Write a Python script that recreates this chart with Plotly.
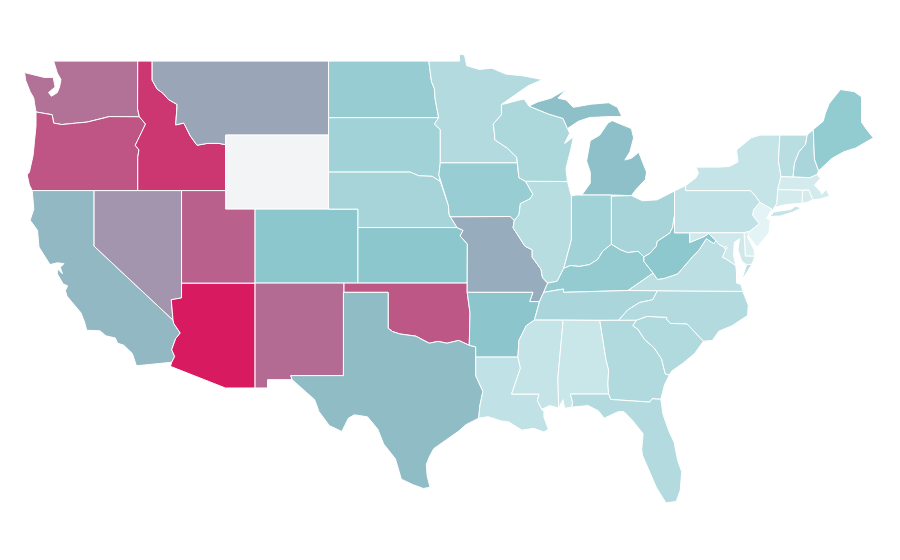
import plotly.graph_objects as go
from plotly.colors import find_intermediate_color, hex_to_rgb, label_rgb

names = ["Washington","Oregon","California","Idaho","Nevada","Arizona","Montana","Wyoming","Utah","Colorado","New Mexico","North Dakota","South Dakota","Nebraska","Kansas","Oklahoma","Texas","Minnesota","Iowa","Missouri","Arkansas","Louisiana","Wisconsin","Illinois","Michigan","Indiana","Ohio","Kentucky","Tennessee","Mississippi","Alabama","Georgia","Florida","South Carolina","North Carolina","Virginia","West Virginia","Pennsylvania","New York","Vermont","New Hampshire","Maine","Massachusetts","Rhode Island","Connecticut","New Jersey","Delaware","Maryland","District of Columbia"]
values = [62.7,74.5,31.5,88,47,100,40,0,70,25,65,22.5,20,19,25,74,30,16,22,36.6,26,13,17.5,15,28,20,19,23,18,12,11,16.5,16,16.5,16,14,24.5,13,12,14.7,18,23.4,8.8,8.8,8.8,5,7,10,9]
stops = [(0, "#f3f4f6"), (5, "#e4f3f5"), (25, "#8bc7cd"), (100, "#d81b60")]
lon_range = [-125.856, -64.636]
lat_range = [21.60, 51.87]

# State outlines as (lon, lat); several parts are listed one after another
WA = [[(-124.73,48.38),(-123.4,48.12),(-122.78,48.12),(-122.65,47.6),(-123.1,47.3),(-122.9,47.1),(-122.5,47.3),(-122.35,47.6),(-122.25,48),(-122.5,48.35),(-122.75,49),(-117.03,49),(-117.04,46.42),(-116.92,45.99),(-118.98,46),(-119.3,45.93),(-120.5,45.7),(-121.2,45.65),(-122.2,45.57),(-122.75,45.65),(-122.85,46.1),(-123.2,46.15),(-123.95,46.25),(-124.05,46.7),(-124.1,47),(-124.35,47.35),(-124.65,47.95)]]
OR = [[(-123.95,46.25),(-123.2,46.15),(-122.85,46.1),(-122.75,45.65),(-122.2,45.57),(-121.2,45.65),(-120.5,45.7),(-119.3,45.93),(-118.98,46),(-116.92,45.99),(-116.5,45.6),(-116.85,45),(-117.2,44.45),(-116.95,44.2),(-117.03,43.8),(-117.03,42),(-124.21,42),(-124.4,42.3),(-124.55,42.85),(-124.4,43),(-124.15,43.9),(-124.05,44.7),(-123.95,45.5)]]
CA = [[(-124.21,42),(-120,42),(-120,39),(-114.63,35),(-114.57,34.8),(-114.14,34.3),(-114.45,34),(-114.72,33.4),(-114.52,33.03),(-114.72,32.72),(-117.12,32.53),(-117.25,32.85),(-117.4,33.2),(-118,33.65),(-118.4,33.75),(-118.55,34.03),(-119.2,34.15),(-119.6,34.42),(-120.5,34.45),(-120.65,34.9),(-120.9,35.4),(-121.85,36.3),(-121.95,36.6),(-121.8,36.85),(-122.1,36.95),(-122.5,37.5),(-122.5,37.78),(-122.15,37.5),(-122.3,37.85),(-122.05,38.05),(-122.5,38.1),(-123,38),(-123.75,38.95),(-123.85,39.85),(-124.35,40.4),(-124.1,41),(-124.2,41.75)]]
ID = [[(-117.03,49),(-116.05,49),(-116.05,47.97),(-115.72,47.5),(-115.3,47.25),(-114.95,46.93),(-114.35,46.65),(-114.45,45.55),(-113.9,45.65),(-113.45,44.95),(-113,44.45),(-112.3,44.55),(-111.5,44.55),(-111.05,44.48),(-111.05,42),(-117.03,42),(-117.03,43.8),(-116.95,44.2),(-117.2,44.45),(-116.85,45),(-116.5,45.6),(-116.92,45.99),(-117.04,46.42)]]
NV = [[(-120,42),(-114.05,42),(-114.05,36.2),(-114.75,36.1),(-114.63,35),(-120,39)]]
AZ = [[(-114.05,37),(-109.05,37),(-109.05,31.33),(-111.07,31.33),(-114.81,32.5),(-114.72,32.72),(-114.52,33.03),(-114.72,33.4),(-114.45,34),(-114.14,34.3),(-114.57,34.8),(-114.63,35),(-114.75,36.1),(-114.05,36.2)]]
MT = [[(-116.05,49),(-104.05,49),(-104.05,45),(-111.05,45),(-111.05,44.48),(-111.5,44.55),(-112.3,44.55),(-113,44.45),(-113.45,44.95),(-113.9,45.65),(-114.45,45.55),(-114.35,46.65),(-114.95,46.93),(-115.3,47.25),(-115.72,47.5),(-116.05,47.97)]]
WY = [[(-111.05,45),(-104.05,45),(-104.05,41),(-111.05,41)]]
UT = [[(-114.05,42),(-111.05,42),(-111.05,41),(-109.05,41),(-109.05,37),(-114.05,37)]]
CO = [[(-109.05,41),(-102.05,41),(-102.05,37),(-109.05,37)]]
NM = [[(-109.05,37),(-103,37),(-103.04,32),(-106.62,32),(-106.53,31.78),(-108.2,31.78),(-108.2,31.33),(-109.05,31.33)]]
ND = [[(-104.05,49),(-97.23,49),(-97.15,48.5),(-97.05,47.9),(-96.85,47.5),(-96.8,46.95),(-96.56,45.94),(-104.05,45.94)]]
SD = [[(-104.05,45.94),(-96.56,45.94),(-96.85,45.6),(-96.45,45.3),(-96.45,43.5),(-96.55,42.85),(-96.45,42.49),(-97,42.77),(-97.9,42.8),(-98.5,43),(-104.05,43)]]
NE = [[(-104.05,43),(-98.5,43),(-97.9,42.8),(-97,42.77),(-96.45,42.49),(-96.1,41.7),(-95.9,41.2),(-95.85,40.7),(-95.31,40),(-102.05,40),(-102.05,41),(-104.05,41)]]
KS = [[(-102.05,40),(-95.31,40),(-94.9,39.85),(-95.1,39.55),(-94.61,39.11),(-94.62,37),(-102.05,37)]]
OK = [[(-103,37),(-94.62,37),(-94.62,36.5),(-94.43,35.4),(-94.48,33.64),(-95.2,33.9),(-96,33.75),(-96.6,33.85),(-97.2,33.75),(-97.7,33.95),(-98.1,34.13),(-99.2,34.25),(-99.7,34.38),(-100,34.56),(-100,36.5),(-103,36.5)]]
TX = [[(-103.04,36.5),(-100,36.5),(-100,34.56),(-99.7,34.38),(-99.2,34.25),(-98.1,34.13),(-97.7,33.95),(-97.2,33.75),(-96.6,33.85),(-96,33.75),(-95.2,33.9),(-94.48,33.64),(-94.04,33.55),(-94.04,31.99),(-93.55,31.15),(-93.75,30.4),(-93.84,29.7),(-94.7,29.35),(-95.2,29),(-95.9,28.6),(-96.9,28.05),(-97.2,27.6),(-97.4,27.2),(-97.35,26.6),(-97.15,25.96),(-97.6,25.9),(-98.3,26.1),(-99.1,26.4),(-99.5,27.5),(-100.3,28.3),(-100.7,29.1),(-101.4,29.77),(-102.3,29.88),(-102.7,29.7),(-103.15,28.98),(-104,29.3),(-104.7,30.05),(-105,30.7),(-106,31.4),(-106.53,31.78),(-106.62,32),(-103.04,32)]]
MN = [[(-97.23,49),(-95.15,49),(-95.15,49.38),(-94.8,49.33),(-94.65,48.75),(-93.8,48.55),(-92.95,48.62),(-92,48.3),(-90.8,48.2),(-89.5,48),(-90.5,47.65),(-91.5,47.1),(-92.1,46.75),(-92.29,46.66),(-92.29,46.1),(-92.85,45.6),(-92.75,45),(-92.75,44.75),(-91.9,44.3),(-91.25,43.8),(-91.22,43.5),(-96.45,43.5),(-96.45,45.3),(-96.85,45.6),(-96.56,45.94),(-96.8,46.95),(-96.85,47.5),(-97.05,47.9),(-97.15,48.5)]]
IA = [[(-96.45,43.5),(-91.22,43.5),(-91.1,42.7),(-90.65,42.5),(-90.15,41.8),(-90.35,41.55),(-91,41.3),(-91.1,40.7),(-91.42,40.38),(-91.7,40.6),(-95.77,40.58),(-95.85,40.7),(-95.9,41.2),(-96.1,41.7),(-96.45,42.49),(-96.55,42.85)]]
MO = [[(-95.77,40.58),(-91.7,40.6),(-91.42,40.38),(-91.5,40),(-90.7,39),(-90.2,38.8),(-90.2,38.4),(-89.6,37.75),(-89.5,37.3),(-89.15,37),(-89.42,36.5),(-89.7,36),(-90.37,36),(-90.15,36.5),(-94.62,36.5),(-94.62,37),(-94.61,39.11),(-95.1,39.55),(-94.9,39.85),(-95.31,40),(-95.85,40.7)]]
AR = [[(-94.62,36.5),(-90.15,36.5),(-90.37,36),(-89.7,36),(-90.05,35),(-90.6,34.7),(-91.1,33.9),(-91.17,33),(-94.04,33),(-94.04,33.55),(-94.48,33.64),(-94.43,35.4)]]
LA = [[(-94.04,33),(-91.17,33),(-91,32.4),(-91.6,31),(-89.73,31),(-89.85,30.65),(-89.55,30.18),(-89.4,30.05),(-89.4,29.75),(-89.1,29.1),(-89.4,28.95),(-90.1,29.15),(-90.9,29.05),(-91.8,29.5),(-92.3,29.55),(-93.2,29.78),(-93.84,29.7),(-93.75,30.4),(-93.55,31.15),(-94.04,31.99)]]
MS = [[(-90.05,35),(-88.2,35),(-88.1,34.9),(-88.45,31.9),(-88.4,30.25),(-89,30.38),(-89.55,30.18),(-89.85,30.65),(-89.73,31),(-91.6,31),(-91,32.4),(-91.17,33),(-91.1,33.9),(-90.6,34.7)]]
AL = [[(-88.2,35),(-85.6,34.98),(-85.18,32.87),(-85,32.3),(-85.05,31.55),(-85,31),(-87.6,31),(-87.45,30.55),(-87.5,30.3),(-88,30.23),(-88.1,30.7),(-88.4,30.25),(-88.45,31.9),(-88.1,34.9)]]
GA = [[(-85.6,34.98),(-83.1,35),(-83.35,34.7),(-83,34.5),(-82.55,33.95),(-81.9,33.5),(-81.4,32.9),(-81.15,32.1),(-80.87,32.03),(-81.2,31.5),(-81.45,30.72),(-82.05,30.75),(-82.2,30.57),(-84.86,30.71),(-85,31),(-85.05,31.55),(-85,32.3),(-85.18,32.87)]]
FL = [[(-87.6,31),(-85,31),(-84.86,30.71),(-82.2,30.57),(-82.05,30.75),(-81.45,30.72),(-81.3,29.9),(-80.9,29),(-80.55,28.4),(-80.3,27.4),(-80.03,26.8),(-80.13,25.8),(-80.4,25.2),(-81.1,25.12),(-81.75,25.95),(-82.1,26.6),(-82.7,27.7),(-82.75,28),(-82.65,28.85),(-83.4,29.6),(-83.95,30.05),(-84.35,30.05),(-85.3,29.7),(-85.7,30.1),(-86.4,30.38),(-87.5,30.3),(-87.45,30.55)]]
SC = [[(-83.1,35),(-82.4,35.2),(-81.05,35.15),(-81.05,35.05),(-80.8,34.82),(-79.67,34.8),(-78.55,33.86),(-79.15,33.2),(-79.9,32.7),(-80.7,32.25),(-80.87,32.03),(-81.15,32.1),(-81.4,32.9),(-81.9,33.5),(-82.55,33.95),(-83,34.5),(-83.35,34.7)]]
NC = [[(-84.32,34.99),(-83.1,35),(-82.4,35.2),(-81.05,35.15),(-81.05,35.05),(-80.8,34.82),(-79.67,34.8),(-78.55,33.86),(-77.95,33.9),(-77.5,34.4),(-76.6,34.7),(-75.55,35.25),(-75.5,35.8),(-75.87,36.55),(-81.68,36.59),(-82,36.1),(-82.9,35.95),(-83.7,35.55)]]
TN = [[(-90.05,35),(-88.2,35),(-85.6,34.98),(-84.32,34.99),(-83.7,35.55),(-82.9,35.95),(-82,36.1),(-81.68,36.59),(-83.68,36.6),(-88.07,36.5),(-88.07,36.68),(-89.42,36.5),(-89.7,36)]]
KY = [[(-89.42,36.5),(-88.07,36.68),(-88.07,36.5),(-83.68,36.6),(-81.97,37.54),(-82.6,38.17),(-82.6,38.42),(-83,38.72),(-83.7,38.65),(-84.2,38.8),(-84.82,39.1),(-85.4,38.73),(-85.75,38.27),(-86.3,38),(-87,37.9),(-87.6,37.95),(-88.05,37.8),(-88.5,37.1),(-89.15,37)]]
VA = [[(-83.68,36.6),(-81.68,36.59),(-75.87,36.55),(-76,36.93),(-76.3,37),(-76.3,37.55),(-76.35,37.95),(-77,38.3),(-77.25,38.4),(-77.04,38.79),(-77.12,38.93),(-77.5,39.1),(-77.72,39.32),(-77.83,39.13),(-78.35,39.4),(-78.87,38.77),(-79.3,38.42),(-80.3,37.5),(-81.23,37.25),(-81.68,37.2),(-81.97,37.54)],
      [(-75.95,37.15),(-75.6,37.55),(-75.24,38.03),(-75.62,37.99)]]
WV = [[(-81.97,37.54),(-81.68,37.2),(-81.23,37.25),(-80.3,37.5),(-79.3,38.42),(-78.87,38.77),(-78.35,39.4),(-77.83,39.13),(-77.72,39.32),(-78.2,39.68),(-78.5,39.52),(-79.48,39.2),(-79.48,39.72),(-80.52,39.72),(-80.52,40.64),(-80.65,40),(-80.85,39.7),(-81.7,39.25),(-81.75,39),(-82.2,38.6),(-82.6,38.42),(-82.6,38.17)]]
OH = [[(-84.81,39.1),(-84.2,38.8),(-83.7,38.65),(-83,38.72),(-82.6,38.42),(-82.2,38.6),(-81.75,39),(-81.7,39.25),(-80.85,39.7),(-80.65,40),(-80.52,40.64),(-80.52,41.98),(-81.7,41.5),(-82.7,41.45),(-83.45,41.73),(-84.81,41.7)]]
IN = [[(-87.53,41.72),(-87.2,41.76),(-86.82,41.76),(-84.81,41.76),(-84.81,39.1),(-85.4,38.73),(-85.75,38.27),(-86.3,38),(-87,37.9),(-87.6,37.95),(-88.05,37.8),(-87.53,39.35)]]
IL = [[(-90.65,42.5),(-87.8,42.49),(-87.55,41.75),(-87.53,41.72),(-87.53,39.35),(-88.05,37.8),(-88.5,37.1),(-89.15,37),(-89.5,37.3),(-89.6,37.75),(-90.2,38.4),(-90.2,38.8),(-90.7,39),(-91.5,40),(-91.42,40.38),(-91.1,40.7),(-91,41.3),(-90.35,41.55),(-90.15,41.8)]]
WI = [[(-92.29,46.66),(-92,46.7),(-91.2,46.87),(-90.75,46.95),(-90.42,46.57),(-89.1,46.14),(-88.1,45.9),(-87.8,45.35),(-87.65,45.1),(-88,44.55),(-87.4,44.9),(-87.55,44.3),(-87.9,43.2),(-87.8,42.49),(-90.65,42.5),(-91.1,42.7),(-91.22,43.5),(-91.25,43.8),(-91.9,44.3),(-92.75,44.75),(-92.75,45),(-92.85,45.6),(-92.29,46.1)]]
MI = [[(-84.81,41.76),(-86.82,41.76),(-86.25,42.4),(-86.25,43),(-86.5,43.6),(-86.25,44.7),(-85.6,45),(-85.05,45.65),(-84.75,45.78),(-83.45,45.35),(-83.3,44.85),(-83.55,44.1),(-83.9,43.65),(-83.45,43.75),(-82.95,44.07),(-82.42,43),(-82.5,42.6),(-83.15,42.05),(-83.45,41.73)],
      [(-90.42,46.57),(-89.1,46.14),(-88.1,45.9),(-87.8,45.35),(-87.05,45.75),(-86.3,45.95),(-85,46),(-84.1,46),(-84.4,46.5),(-85,46.75),(-86.2,46.67),(-87.4,46.5),(-87.9,46.9),(-88.45,47),(-87.9,47.47),(-88.9,47),(-89.8,46.8)]]
PA = [[(-80.52,41.98),(-79.76,42.27),(-79.76,42),(-75.35,42),(-75.05,41.75),(-74.7,41.36),(-75.13,40.98),(-75.2,40.68),(-74.75,40.2),(-75.4,39.8),(-75.79,39.72),(-80.52,39.72)]]
NY = [[(-79.76,42.27),(-79.05,42.7),(-78.9,42.95),(-79.05,43.27),(-77.5,43.27),(-76.8,43.3),(-76.2,43.55),(-76.3,44.2),(-75.3,44.85),(-74.7,45),(-73.35,45),(-73.45,43.6),(-73.27,42.75),(-73.5,42.05),(-73.55,41.3),(-73.73,41.1),(-74,40.7),(-73.9,41),(-74.7,41.36),(-75.05,41.75),(-75.35,42),(-79.76,42)],
      [(-74.03,40.6),(-73.75,40.85),(-72.6,40.98),(-72.3,41.15),(-71.87,41.07),(-72.5,40.83),(-73.3,40.63)]]
VT = [[(-73.35,45),(-71.5,45),(-71.6,44.5),(-72.05,44.1),(-72.35,43.5),(-72.46,42.73),(-73.27,42.75),(-73.45,43.6)]]
NH = [[(-71.5,45),(-71.08,45.3),(-71,43.7),(-70.72,43.07),(-70.82,42.87),(-71.3,42.7),(-72.46,42.73),(-72.35,43.5),(-72.05,44.1),(-71.6,44.5)]]
ME = [[(-71.08,45.3),(-70.4,45.75),(-70.25,46.2),(-70,46.7),(-69.23,47.46),(-68.3,47.35),(-67.8,47.07),(-67.8,45.7),(-67.45,45.3),(-67,44.85),(-68.2,44.3),(-69,44.1),(-69.8,43.75),(-70.6,43.2),(-70.72,43.07),(-71,43.7)]]
MA = [[(-73.5,42.05),(-73.27,42.75),(-72.46,42.73),(-71.3,42.7),(-70.82,42.87),(-70.6,42.65),(-71,42.3),(-70.6,41.95),(-70.5,41.8),(-70.2,42.07),(-69.97,41.7),(-70.6,41.55),(-71.12,41.5),(-71.38,42.02),(-71.8,42.02)]]
RI = [[(-71.8,42.02),(-71.38,42.02),(-71.12,41.5),(-71.5,41.37),(-71.85,41.32)]]
CT = [[(-73.5,42.05),(-71.8,42.02),(-71.85,41.32),(-72.9,41.25),(-73.73,41.1),(-73.55,41.3)]]
NJ = [[(-74.7,41.36),(-73.9,41),(-74.25,40.5),(-74,40.4),(-74.1,39.7),(-74.9,38.95),(-75.4,39.45),(-75.55,39.6),(-75.4,39.8),(-74.75,40.2),(-75.2,40.68),(-75.13,40.98)]]
DE = [[(-75.79,39.72),(-75.4,39.8),(-75.55,39.5),(-75.1,38.8),(-75.05,38.45),(-75.7,38.46)]]
MD = [[(-79.48,39.72),(-75.79,39.72),(-75.7,38.46),(-75.05,38.45),(-75.24,38.03),(-75.62,37.99),(-75.95,38.2),(-76.2,38.8),(-76.1,39.4),(-76.45,39.2),(-76.5,38.5),(-76.35,37.95),(-77,38.3),(-77.25,38.4),(-77.04,38.79),(-77.12,38.93),(-77.5,39.1),(-77.72,39.32),(-78.2,39.68),(-78.5,39.52),(-79.48,39.2)]]
DC = [[(-77.12,38.93),(-77.04,38.995),(-76.91,38.89),(-77.04,38.79)]]

outlines = [WA,OR,CA,ID,NV,AZ,MT,WY,UT,CO,NM,ND,SD,NE,KS,OK,TX,MN,IA,MO,AR,LA,WI,IL,MI,IN,OH,KY,TN,MS,AL,GA,FL,SC,NC,VA,WV,PA,NY,VT,NH,ME,MA,RI,CT,NJ,DE,MD,DC]


def color_for(v):
    for (a, ca), (b, cb) in zip(stops, stops[1:]):
        if v <= b:
            c = find_intermediate_color(hex_to_rgb(ca), hex_to_rgb(cb), (v - a) / (b - a))
            return label_rgb(tuple(round(x) for x in c))
    return stops[-1][1]


fig = go.Figure()
for name, v, parts in zip(names, values, outlines):
    xs, ys = [], []
    for part in parts:
        closed = part + part[:1]
        xs += [p[0] for p in closed] + [None]
        ys += [p[1] for p in closed] + [None]
    fig.add_trace(go.Scatter(
        x=xs, y=ys, mode="lines", fill="toself", name=name,
        fillcolor=color_for(v), line=dict(color="white", width=1),
        hoveron="fills", text=f"{name}: {v}", hoverinfo="text",
    ))
fig.update_xaxes(visible=False, range=lon_range, fixedrange=True)
fig.update_yaxes(visible=False, range=lat_range, fixedrange=True)
fig.update_layout(width=900, height=560, margin=dict(l=0, r=0, t=0, b=0),
                  paper_bgcolor="white", plot_bgcolor="white", showlegend=False)
fig.write_html("out.html")
